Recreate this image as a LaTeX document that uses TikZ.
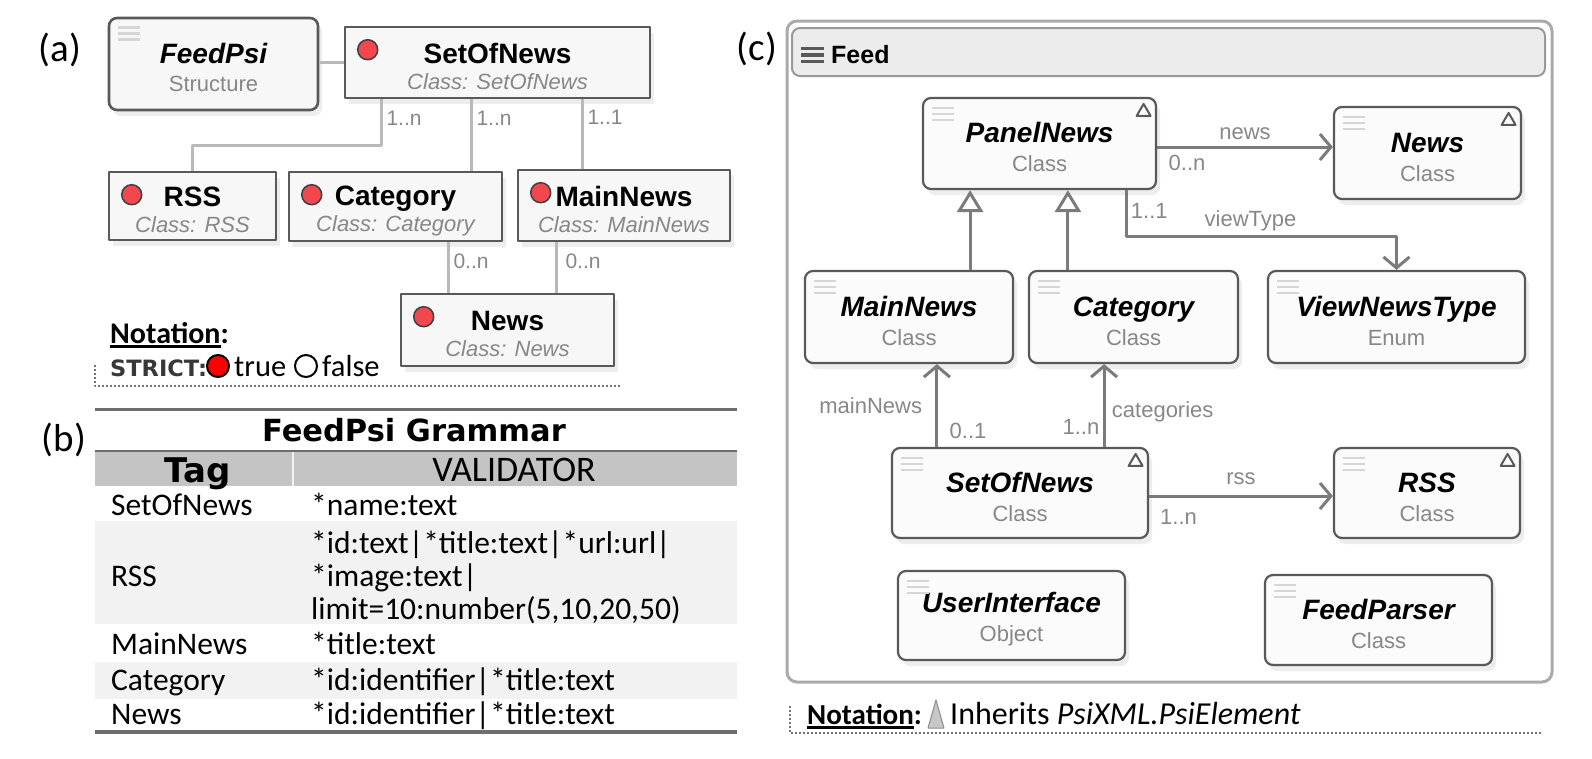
\documentclass[tikz,border=0pt]{standalone}
\usepackage{fontspec}
\setmainfont{Liberation Sans}
\newfontfamily\calfont{Carlito}
\newfontfamily\dejafont{DejaVu Sans}
\usetikzlibrary{arrows.meta,positioning,calc,shadows}

\definecolor{boxline}{HTML}{595959}
\definecolor{subgray}{HTML}{878787}
\definecolor{linkgray}{HTML}{B9B9B9}
\definecolor{arrgray}{HTML}{7B7B7B}
\definecolor{dotred}{HTML}{F2474F}
\definecolor{hdrgray}{HTML}{C4C4C4}
\definecolor{bandgray}{HTML}{F2F2F2}
\definecolor{rulegray}{HTML}{6E6E6E}
\definecolor{burgergray}{HTML}{D6D6D6}
\definecolor{framegray}{HTML}{AAAAAA}
\definecolor{barfill}{HTML}{ECECEC}

\newsavebox\ulbox
\newcommand\thickul[1]{\sbox\ulbox{#1}\rlap{\rule[-0.16em]{\wd\ulbox}{0.085em}}\usebox\ulbox}
\newcommand\atitle[1]{{\fontsize{28}{28}\selectfont\bfseries\rule{0pt}{1em}#1}}
\newcommand\ctitle[1]{{\fontsize{28}{28}\selectfont\bfseries\itshape\rule{0pt}{1em}#1}}
\newcommand\subt[1]{{\color{subgray}#1}}

\begin{document}
\begin{tikzpicture}[x=1pt, y=-1pt, line join=round,
  panel/.style={font=\calfont\fontsize{39}{40}\selectfont, inner sep=0pt},
  abox/.style={rectangle, draw=boxline, line width=2.6pt, fill=black!3, inner sep=0pt, align=center,
    font=\fontsize{22}{26}\selectfont, drop shadow={shadow xshift=4pt, shadow yshift=-6pt, fill=black, opacity=0.07}},
  cbox/.style={abox, rounded corners=8pt, line width=2.2pt, fill=black!1.5, font=\fontsize{22}{29}\selectfont},
  rdot/.style={circle, draw=black!75, line width=1.5pt, fill=dotred, minimum size=20pt, inner sep=0pt},
  aline/.style={draw=linkgray, line width=3pt},
  mult/.style={font=\fontsize{21}{21}\selectfont, text=subgray},
  elbl/.style={font=\fontsize{22}{22}\selectfont, text=subgray},
  assoc/.style={draw=arrgray, line width=3pt, -{Straight Barb[length=11pt, width=26pt]}},
  inh/.style={draw=arrgray, line width=3pt, -{Triangle[open, length=22pt, width=26pt, fill=white]}},
  burger/.style={draw=burgergray, line width=2.6pt},
  tricon/.style={draw=boxline, line width=2pt, fill=white},
  dotline/.style={draw=black!55, line width=2pt, dash pattern=on 2pt off 2pt},
  rule/.style={draw=rulegray, line width=3pt},
  cell/.style={font=\calfont\fontsize{31.5}{33}\selectfont, anchor=base west, inner sep=0pt},
  note/.style={font=\calfont\fontsize{30.5}{32}\selectfont, anchor=base west, inner sep=0pt},
  notebf/.style={note, font=\calfont\bfseries\fontsize{30}{32}\selectfont}]

\useasboundingbox (0,0) rectangle (1592,758);

% (a) structure
\node[panel] (la) at (60,50) {(a)};
\node[abox, rounded corners=8pt, font=\fontsize{22}{28}\selectfont, minimum width=209pt, minimum height=92pt] (fp) at (213.5,64) {\atitle{\itshape FeedPsi}\\\subt{Structure}};
\node[abox, minimum width=305pt, minimum height=71pt] (son) at (497.5,62.5) {\atitle{SetOfNews}\\\subt{\itshape Class: SetOfNews}};
\node[abox, minimum width=167pt, minimum height=68pt] (rss) at (192.5,206) {\atitle{RSS}\\\subt{\itshape Class: RSS}};
\node[abox, minimum width=213pt, minimum height=69pt] (cat) at (395.5,206.5) {\atitle{Category}\\\subt{\itshape Class: Category}};
\node[abox, minimum width=212pt, minimum height=71pt] (mnw) at (624,205.5) {\atitle{MainNews}\\\subt{\itshape Class: MainNews}};
\node[abox, minimum width=213pt, minimum height=72pt] (nws) at (507.5,330) {\atitle{News}\\\subt{\itshape Class: News}};
\foreach \b in {son,rss,cat,mnw,nws}
  \node[rdot] (\b-dot) at ($(\b.north west)+(24,24)$) {};

\draw[aline] (son.west) -- (son.west -| fp.east);
\draw[aline] ([xshift=38pt]son.south west) -- ++(0,46) node[mult, pos=0.42, right] {1..n} -| (rss.north);
\draw[aline] ([xshift=128pt]son.south west) coordinate (s2) -- (s2 |- cat.north) node[mult, pos=0.26, right] {1..n};
\draw[aline] ([xshift=239pt]son.south west) coordinate (s3) -- (s3 |- mnw.north) node[mult, pos=0.26, right] {1..1};
\draw[aline] ([xshift=161pt]cat.south west) coordinate (s4) -- (s4 |- nws.north) node[mult, pos=0.38, right] {0..n};
\draw[aline] ([xshift=40pt]mnw.south west) coordinate (s5) -- (s5 |- nws.north) node[mult, pos=0.38, right=4pt] {0..n};

\node[notebf] (nota) at (110,343) {\thickul{Notation}:};
\node[anchor=base west, inner sep=0pt, font=\dejafont\bfseries\fontsize{22.5}{24}\selectfont, text=black!78] (strict) at (110,376) {STRICT:};
\node[circle, draw=black, line width=2pt, fill=red, minimum size=22pt, inner sep=0pt] (tdot) at (218,366) {};
\node[note] (ttrue) at (234,376) {true};
\node[circle, draw=black, line width=2pt, minimum size=22pt, inner sep=0pt] (fdot) at (306,366) {};
\node[note] (tfalse) at (322,376) {false};
\draw[dotline] (95,365) -- (95,386) -- (621,386);

% (b) grammar
\node[panel] (lb) at (64,440) {(b)};
\draw[rule] (95,409) -- (737,409);
\node[font=\dejafont\bfseries\fontsize{30.5}{31}\selectfont, anchor=base, inner sep=0pt] (gtitle) at (414,441) {FeedPsi Grammar};
\fill[hdrgray] (95,451) rectangle (737,486);
\draw[rulegray, line width=2.5pt] (95,451) -- (737,451);
\draw[white!80!hdrgray, line width=1.5pt] (293,452) -- (293,486);
\node[font=\dejafont\bfseries\fontsize{34}{34}\selectfont, anchor=base, inner sep=0pt] (htag) at (198,482) {Tag};
\node[font=\calfont\fontsize{36}{36}\selectfont, anchor=base, inner sep=0pt] (hval) at (514,481) {VALIDATOR};
\fill[bandgray] (95,521) rectangle (737,624);
\fill[bandgray] (95,662) rectangle (737,699);
\node[cell] (r1a) at (111,515) {SetOfNews};
\node[cell] (r1b) at (311,515) {*name:text};
\node[cell] (r2a) at (111,586) {RSS};
\node[cell] (r2b) at (311,553) {*id:text|*title:text|*url:url|};
\node[cell] (r2c) at (311,586) {*image:text|};
\node[cell] (r2d) at (311,619) {limit=10:number(5,10,20,50)};
\node[cell] (r3a) at (111,654) {MainNews};
\node[cell] (r3b) at (311,654) {*title:text};
\node[cell] (r4a) at (111,690) {Category};
\node[cell] (r4b) at (311,690) {*id:identifier|*title:text};
\node[cell] (r5a) at (111,724) {News};
\node[cell] (r5b) at (311,724) {*id:identifier|*title:text};
\draw[rulegray, line width=4pt] (95,732) -- (737,732);

% (c) package Feed
\node[panel] (lc) at (757,49) {(c)};
\node[draw=framegray, line width=3pt, rounded corners=10pt, minimum width=765pt, minimum height=661pt, inner sep=0pt] (fr) at (1169.5,351.5) {};
\node[draw=black!40, fill=barfill, line width=2pt, rounded corners=8pt, minimum width=753pt, minimum height=48pt, inner sep=0pt] (bar) at (1168.5,52) {};
\foreach \dy in {-3.5,3,9.5}
  \draw[draw=black!65, line width=3.2pt] ($(bar.west)+(10,\dy)$) -- ++(23,0);
\node[anchor=west, inner sep=0pt, font=\bfseries\fontsize{25}{25}\selectfont] (feed) at ($(bar.west)+(40,3)$) {Feed};

\node[cbox, minimum width=233pt, minimum height=91pt] (pn) at (1039.5,143.5) {\ctitle{PanelNews}\\\subt{Class}};
\node[cbox, minimum width=187pt, minimum height=92pt] (nw2) at (1427.5,153) {\ctitle{News}\\\subt{Class}};
\node[cbox, minimum width=208pt, minimum height=92pt] (mn2) at (909,317) {\ctitle{MainNews}\\\subt{Class}};
\node[cbox, minimum width=209pt, minimum height=92pt] (ct2) at (1133.5,317) {\ctitle{Category}\\\subt{Class}};
\node[cbox, minimum width=257pt, minimum height=92pt] (vt) at (1396.5,317) {\ctitle{ViewNewsType}\\\subt{Enum}};
\node[cbox, minimum width=256pt, minimum height=90pt] (sn2) at (1020,493) {\ctitle{SetOfNews}\\\subt{Class}};
\node[cbox, minimum width=186pt, minimum height=90pt] (rs2) at (1427,493) {\ctitle{RSS}\\\subt{Class}};
\node[cbox, minimum width=227pt, minimum height=89pt] (ui) at (1011.5,615.5) {\ctitle{UserInterface}\\\subt{Object}};
\node[cbox, minimum width=227pt, minimum height=90pt] (fpr) at (1378.5,620) {\ctitle{FeedParser}\\\subt{Class}};

\foreach \b in {fp,pn,nw2,mn2,ct2,vt,sn2,rs2,ui,fpr}
  \foreach \dy in {11,17,23}
    \draw[burger] ($(\b.north west)+(10,\dy)$) -- ++(22,0);
\foreach \b in {pn,nw2,sn2,rs2}
  \draw[tricon] ($(\b.north east)+(-13.5,7)$) -- ++(7,12) -- ++(-14,0) -- cycle;

\draw[assoc] ([yshift=-3.5pt]pn.east) coordinate (e1) -- (e1 -| nw2.west)
  node[elbl, midway, above=2pt] {news} node[elbl, pos=0.17, below=3pt] {0..n};
\draw[assoc] ([xshift=-31pt]pn.south east) -- ++(0,46) node[elbl, pos=0.46, right] {1..1}
  -| (vt.north) node[elbl, pos=0.23, above] {viewType};
\draw[inh] ([xshift=-44pt]mn2.north east) coordinate (i1) -- (i1 |- pn.south);
\draw[inh] ([xshift=40pt]ct2.north west) coordinate (i2) -- (i2 |- pn.south);
\draw[assoc] ([xshift=46pt]sn2.north west) coordinate (m1) -- (m1 |- mn2.south)
  node[elbl, pos=0.5, left=10pt] {mainNews} node[elbl, pos=0.19, right=8pt] {0..1};
\draw[assoc] ([xshift=-45pt]sn2.north east) coordinate (m2) -- (m2 |- ct2.south)
  node[elbl, pos=0.24, left] {1..n} node[elbl, pos=0.42, right=3pt] {categories};
\draw[assoc] ([yshift=-3pt]sn2.east) coordinate (r1) -- (r1 -| rs2.west)
  node[elbl, midway, above=6pt] {rss} node[elbl, pos=0.16, below=9pt] {1..n};

\node[notebf, font=\calfont\bfseries\fontsize{29}{32}\selectfont] (notc) at (807,724) {\thickul{Notation}:};
\filldraw[fill=black!22, draw=black!45, line width=1pt] (928,728) -- (936,700) -- (944,728) -- cycle;
\node[note, font=\calfont\fontsize{32}{33}\selectfont] (inhc) at (950,724) {Inherits \textit{PsiXML.PsiElement}};
\draw[dotline] (790,706) -- (790,733) -- (1541,733);
\end{tikzpicture}
\end{document}
